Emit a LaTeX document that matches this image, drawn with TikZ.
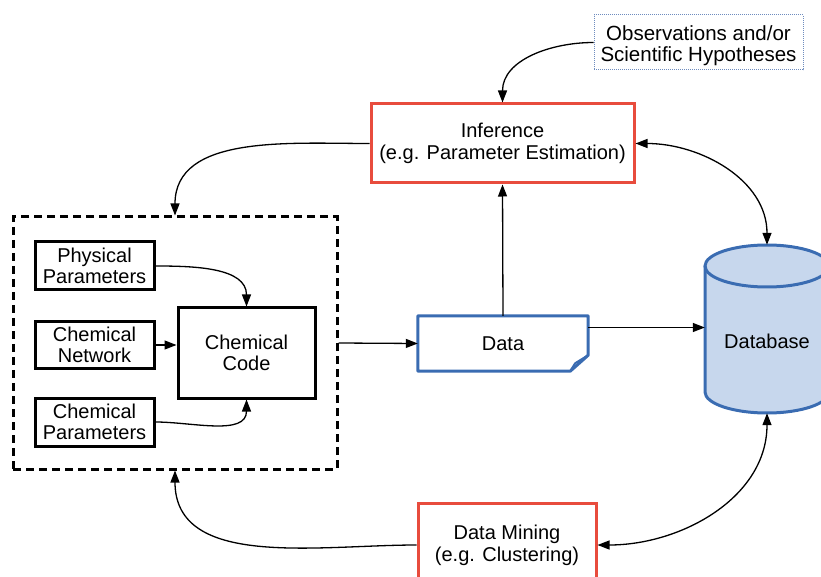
\documentclass[tikz,border=0pt]{standalone}
\usepackage{fontspec}
\setmainfont{Liberation Sans}
\usetikzlibrary{arrows.meta}
\definecolor{boxred}{RGB}{232,76,61}
\definecolor{docblue}{RGB}{58,108,178}
\definecolor{dbfill}{RGB}{199,215,237}
\definecolor{noteblue}{RGB}{110,140,190}

\begin{document}
\begin{tikzpicture}[x=1pt,y=1pt,
  lbl/.style={align=center, font=\fontsize{20}{22}\selectfont, inner sep=0pt},
  redbox/.style={lbl, draw=boxred, line width=3pt},
  blkbox/.style={lbl, draw=black, line width=3pt, font=\fontsize{20}{21}\selectfont},
  conn/.style={line width=1.3pt, -{Triangle[length=12pt,width=9pt]}},
  biconn/.style={line width=1.3pt, {Triangle[length=12pt,width=9pt]}-{Triangle[length=12pt,width=9pt]}},
]
\useasboundingbox (0,0) rectangle (821,576);

% top note and inference step
\node[draw=noteblue, densely dotted, line width=1pt, inner sep=0pt,
      font=\fontsize{20.5}{20}\selectfont,
      minimum width=209pt, minimum height=55pt] (obs) at (698.5,533.5)
      {\raisebox{-4pt}[\height][\depth]{\begin{tabular}{@{}c@{}}Observations and/or\\Scientific Hypotheses\end{tabular}}};
\node[redbox, minimum width=263pt, minimum height=79pt] (inf) at (502.5,432.5)
      {Inference\\(e.g. Parameter Estimation)};

% model group
\node[draw, line width=3pt, dash pattern=on 8pt off 5pt,
      minimum width=324pt, minimum height=252pt] (grp) at (175,233) {};
\node[blkbox, minimum width=119pt, minimum height=48pt] (phys) at (94.5,310) {Physical\\Parameters};
\node[blkbox, minimum width=119pt, minimum height=46pt] (chemn) at (94.5,231) {Chemical\\Network};
\node[blkbox, minimum width=119pt, minimum height=48pt] (chemp) at (94.5,154) {Chemical\\Parameters};
\node[blkbox, minimum width=137pt, minimum height=90pt] (code) at (246.5,223) {Chemical\\Code};

% data document with folded corner
\node[lbl, minimum width=170pt, minimum height=55pt] (data) at (503,232.5) {Data};
\draw[docblue, line width=3pt, line join=round]
  (data.north west) -- (data.north east) -- ([yshift=16pt]data.south east)
  -- ([xshift=-18pt]data.south east) -- (data.south west) -- cycle;
\draw[docblue, line width=2pt, line join=round]
  ([xshift=-18pt]data.south east) -- ([xshift=-13pt,yshift=8pt]data.south east)
  -- ([yshift=16pt]data.south east);

% database cylinder
\node[minimum width=124pt, minimum height=168pt, inner sep=0pt] (db) at (767,247) {};
\fill[dbfill] (705,310) -- (705,184) arc[start angle=180,end angle=360,x radius=62,y radius=21]
  -- (829,310) arc[start angle=0,end angle=180,x radius=62,y radius=21] -- cycle;
\draw[docblue, line width=3pt] (705,310) -- (705,184)
  arc[start angle=180,end angle=360,x radius=62,y radius=21] -- (829,310);
\draw[docblue, line width=3pt] (767,310) ellipse[x radius=62,y radius=21];
\node[lbl] (dbtext) at (767,235) {Database};

% data mining step
\node[redbox, minimum width=178pt, minimum height=84pt] (dm) at (507,31)
      {Data Mining\\(e.g. Clustering)};

% connectors
\draw[conn] (obs.west) to[out=180,in=90] (inf.north);
\draw[conn] (inf.west) to[out=180,in=90] (grp.north);
\draw[biconn] (inf.east) to[out=0,in=90] (db.north);
\draw[conn] (data.north) -- (inf.south);
\draw[conn] (grp.east) -- (data.west);
\draw[conn] ([yshift=16pt]data.east) -- ([yshift=16pt]data.east -| db.west);
\draw[biconn] (db.south) to[out=-90,in=0] (dm.east);
\draw[conn] (dm.west) to[out=180,in=-90] (grp.south);
\draw[conn] (phys.east) to[out=0,in=90] (code.north);
\draw[conn] (chemn.east) -- (chemn.east -| code.west);
\draw[conn] (chemp.east) to[out=0,in=-90] (code.south);
\end{tikzpicture}
\end{document}
